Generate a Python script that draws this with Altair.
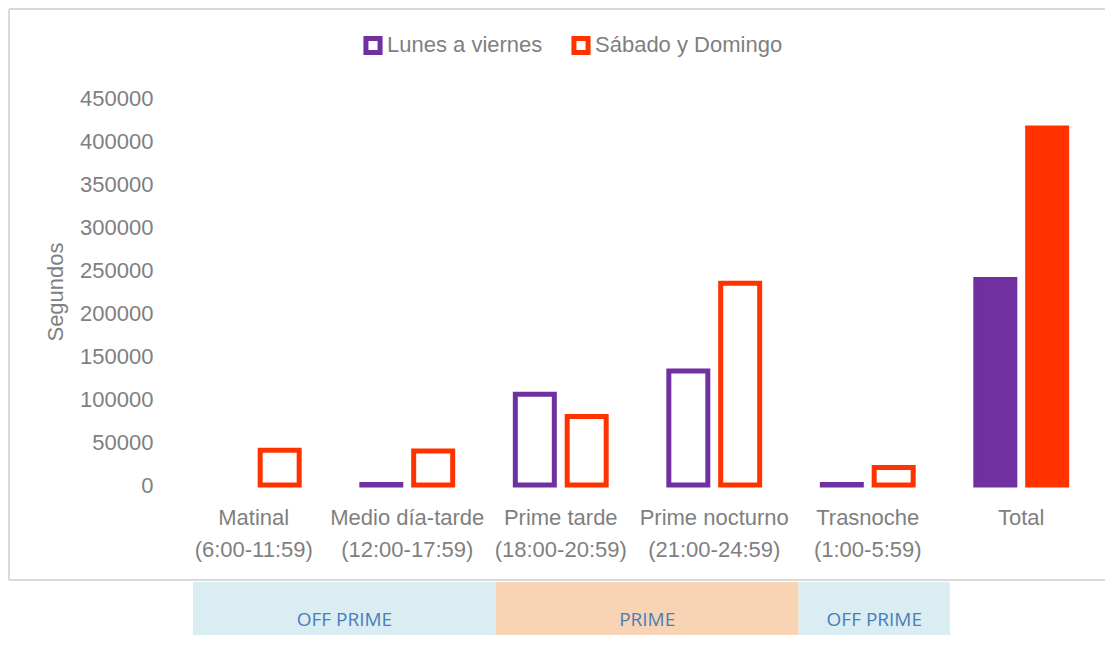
import altair as alt
import pandas as pd

# ---- data ----
periodos = ["Matinal", "Medio día-tarde", "Prime tarde", "Prime nocturno", "Trasnoche", "Total"]
horarios = ["(6:00-11:59)", "(12:00-17:59)", "(18:00-20:59)", "(21:00-24:59)", "(1:00-5:59)", ""]
series = ["Lunes a viernes", "Sábado y Domingo"]
lunes_viernes = [None, 500, 105500, 132600, 500, 239000]
sabado_domingo = [40400, 39600, 79600, 234500, 20300, 415000]
colores = ["#7030A0", "#FF3300"]

franjas = ["OFF PRIME", "PRIME", "OFF PRIME"]
franja_inicio = [0, 2, 4]
franja_fin = [2, 4, 5]
franja_color = ["#DAEDF3", "#F9D4B4", "#DAEDF3"]

# ---- tables ----
cats = [p + "|" + h for p, h in zip(periodos, horarios)]
rows = []
for c, p, a, b in zip(cats, periodos, lunes_viernes, sabado_domingo):
    for s, v in zip(series, (a, b)):
        rows.append({"cat": c, "periodo": p, "serie": s, "valor": v,
                     "relleno": s if p == "Total" else "vacío"})
df = pd.DataFrame(rows)

bands = pd.DataFrame({"etiqueta": franjas, "inicio": franja_inicio,
                      "fin": franja_fin, "color": franja_color})

FONT = "Liberation Sans"
GRAY = "#7F7F7F"
FS = 22

W, H = 921, 387

color_scale = alt.Scale(domain=series, range=colores)

bars = alt.Chart(df).mark_bar(strokeWidth=5).encode(
    x=alt.X("cat:N", sort=cats, title=None,
            scale=alt.Scale(paddingInner=0, paddingOuter=0),
            axis=alt.Axis(labelExpr="split(datum.label, '|')", labelAngle=0,
                          ticks=False, domain=False, labelPadding=22,
                          labelLineHeight=32, labelFontSize=FS,
                          labelColor=GRAY, labelFont=FONT)),
    xOffset=alt.XOffset("serie:N", sort=series,
                        scale=alt.Scale(paddingInner=0.248, paddingOuter=0.604)),
    y=alt.Y("valor:Q", title="Segundos",
            scale=alt.Scale(domain=[0, 450000], nice=False),
            axis=alt.Axis(values=list(range(0, 450001, 50000)), format="d",
                          ticks=False, domain=False, grid=False,
                          labelPadding=24, labelFontSize=FS, labelColor=GRAY,
                          labelFont=FONT, titleFont=FONT, titleFontSize=FS,
                          titleColor=GRAY, titleFontWeight="normal",
                          titlePadding=12)),
    stroke=alt.Stroke("serie:N", scale=color_scale, sort=series,
                      legend=alt.Legend(title=None, orient="none", direction="horizontal",
                                        legendX=185, legendY=-64,
                                        symbolType="square", symbolSize=200,
                                        symbolStrokeWidth=5, symbolFillColor="white",
                                        labelFont=FONT, labelFontSize=FS,
                                        labelColor=GRAY, labelOffset=3,
                                        labelLimit=400, columnPadding=20)),
    fill=alt.Fill("relleno:N",
                  scale=alt.Scale(domain=series + ["vacío"], range=colores + ["white"]),
                  legend=None),
)

frame_style = dict(stroke="#D9D9D9", strokeWidth=2)
one = alt.Data(values=[{}])
frame_top = alt.Chart(one).mark_rule(**frame_style).encode(
    x=alt.value(-168), x2=alt.value(928), y=alt.value(-89))
frame_left = alt.Chart(one).mark_rule(**frame_style).encode(
    x=alt.value(-168), y=alt.value(-89), y2=alt.value(482))
frame_bottom = alt.Chart(one).mark_rule(**frame_style).encode(
    x=alt.value(-168), x2=alt.value(928), y=alt.value(482))

band_x = alt.Scale(domain=[0, 5], range=[16, 773])
band_rect = alt.Chart(bands).mark_rect().encode(
    x=alt.X("inicio:Q", scale=band_x, axis=None),
    x2="fin:Q",
    y=alt.value(484), y2=alt.value(600),
    fill=alt.Fill("color:N", scale=None),
)
band_text = alt.Chart(bands).transform_calculate(
    mid="(datum.inicio + datum.fin) / 2"
).mark_text(font="Open Sans", fontSize=19, color="#4A7EBB").encode(
    x=alt.X("mid:Q", scale=band_x, axis=None),
    y=alt.value(522),
    text="etiqueta:N",
)
band_layer = alt.layer(band_rect, band_text)

chart = alt.layer(frame_top, frame_left, frame_bottom, bars, band_layer).resolve_scale(
    x="independent", fill="independent"
).properties(
    width=W, height=H,
    autosize=alt.AutoSizeParams(type="none"),
    padding={"left": 169, "top": 90, "right": 10, "bottom": 150},
).configure_view(strokeWidth=0)

chart.save("out.html", embed_options={"renderer": "svg", "actions": False})
